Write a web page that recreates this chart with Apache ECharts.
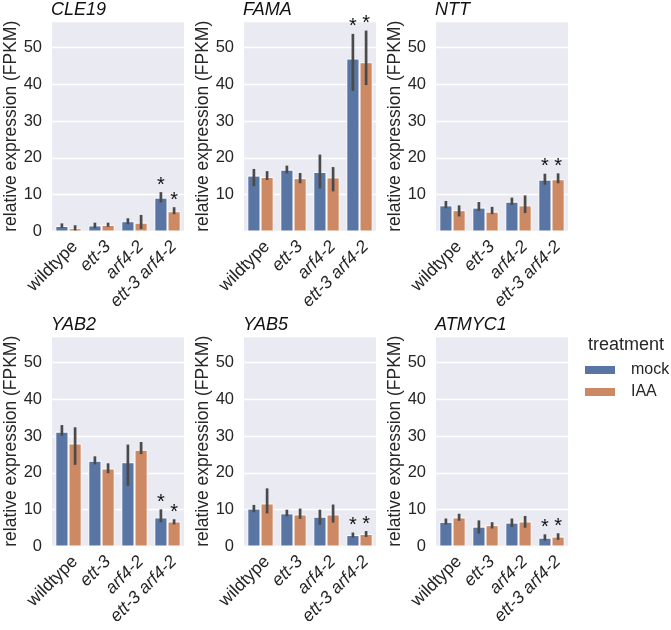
<!DOCTYPE html>
<html>
<head>
<meta charset="utf-8">
<script src="https://cdn.jsdelivr.net/npm/echarts@6/dist/echarts.min.js"></script>
<style>
  html, body { margin: 0; padding: 0; background: #fff; }
  #chart { width: 671px; height: 630px; }
</style>
</head>
<body>
<div id="chart"></div>
<script>
// genotypes on the x axis, one panel per gene
const categories = ["wildtype", "ett-3", "arf4-2", "ett-3 arf4-2"];
const genes = ["CLE19", "FAMA", "NTT", "YAB2", "YAB5", "ATMYC1"];
const treatments = ["mock", "IAA"];

// mean FPKM, one row per gene (same order as genes)
const mockMean = [
  [1.5, 1.65, 2.8, 9.2],
  [15.2, 16.8, 16.2, 47.0],
  [7.1, 6.5, 8.1, 14.1],
  [31.2, 23.3, 22.9, 7.9],
  [10.3, 9.0, 8.1, 3.1],
  [6.7, 5.4, 6.5, 2.4],
];
const iaaMean = [
  [0.9, 1.8, 2.4, 5.5],
  [14.8, 14.5, 14.7, 46.0],
  [5.8, 5.4, 7.1, 14.2],
  [28.0, 21.2, 26.3, 6.8],
  [11.7, 8.7, 8.7, 3.4],
  [7.9, 5.8, 6.8, 2.7],
];
// error bar ends
const mockLow = [
  [0.95, 0.9, 2.0, 7.9],
  [12.3, 15.8, 11.7, 38.2],
  [6.3, 5.6, 7.2, 12.7],
  [30.1, 22.3, 16.5, 6.6],
  [9.3, 8.2, 5.9, 2.4],
  [6.0, 3.5, 5.3, 1.6],
];
const mockHigh = [
  [2.2, 2.4, 3.6, 10.7],
  [17.0, 17.9, 20.9, 53.7],
  [8.3, 8.0, 9.2, 15.7],
  [33.0, 24.5, 27.7, 10.1],
  [11.3, 10.0, 10.0, 3.8],
  [7.6, 7.1, 7.6, 3.3],
];
const iaaLow = [
  [0.3, 1.3, 0.7, 4.7],
  [14.0, 13.1, 10.9, 39.8],
  [4.1, 4.7, 5.0, 13.1],
  [22.2, 19.9, 25.1, 6.0],
  [9.0, 7.5, 6.5, 2.6],
  [7.0, 4.9, 5.1, 1.8],
];
const iaaHigh = [
  [1.7, 2.4, 4.5, 6.6],
  [16.4, 15.9, 17.5, 54.6],
  [7.1, 6.7, 9.8, 15.8],
  [32.4, 22.6, 28.4, 7.4],
  [15.8, 10.3, 11.4, 4.2],
  [8.9, 6.6, 8.3, 3.6],
];
// significance asterisks (both treatments)
const significant = [
  [0, 0, 0, 1],
  [0, 0, 0, 1],
  [0, 0, 0, 1],
  [0, 0, 0, 1],
  [0, 0, 0, 1],
  [0, 0, 0, 1],
];
const yTicks = [0, 10, 20, 30, 40, 50];

const colors = ["#5975A4", "#CC8963"];
const txt = "#262626";
const font = "'Liberation Sans', Arial, sans-serif";
const lefts = [52, 244, 436];
const tops = [21, 336];
const W = 132, H = 210.5;
const YMAX = 57.2;

const chart = echarts.init(document.getElementById("chart"), null, { renderer: "canvas" });

const grids = [], xAxes = [], yAxes = [], titles = [], series = [];

genes.forEach((g, i) => {
  const col = i % 3, row = Math.floor(i / 3);
  grids.push({
    left: lefts[col], top: tops[row], width: W, height: H,
    show: true, backgroundColor: "#EAEAF2", borderWidth: 0, containLabel: false,
  });
  titles.push({
    text: g, left: lefts[col] - 1, top: tops[row] - 20, padding: 0,
    textStyle: { fontFamily: font, fontSize: 18, fontStyle: "italic", fontWeight: "normal", color: "#111" },
  });
  xAxes.push({
    type: "category", gridIndex: i, data: categories,
    axisLine: { show: false }, axisTick: { show: false },
    axisLabel: {
      interval: 0, rotate: 45, margin: 6, align: "right", verticalAlign: "top",
      color: txt, fontFamily: font, fontSize: 17.5,
      formatter: v => v === "wildtype" ? v : "{i|" + v + "}",
      rich: { i: { fontStyle: "italic", fontFamily: font, fontSize: 17.5, color: txt } },
    },
    splitLine: { show: false },
  });
  const hideZero = (i === 1 || i === 2);
  yAxes.push({
    type: "value", gridIndex: i, min: 0, max: YMAX, interval: 10,
    name: "relative expression (FPKM)", nameLocation: "middle", nameGap: 27,
    nameTextStyle: { fontFamily: font, fontSize: 17.5, color: txt },
    axisLine: { show: false }, axisTick: { show: false },
    axisLabel: {
      margin: 10, color: txt, fontFamily: font, fontSize: 16.5, showMaxLabel: false,
      formatter: v => (yTicks.indexOf(v) < 0 || (hideZero && v === 0)) ? "" : String(v),
    },
    splitLine: { lineStyle: { color: "#fff", width: 1.3 } },
  });

  [mockMean[i], iaaMean[i]].forEach((vals, h) => {
    series.push({
      type: "bar", name: treatments[h], xAxisIndex: i, yAxisIndex: i,
      data: vals, barGap: "0%", barCategoryGap: "20%",
      itemStyle: { color: colors[h], borderColor: "#fff", borderWidth: 1 },
      animation: false, silent: true,
    });
  });

  const errData = [];
  categories.forEach((c, k) => {
    errData.push([k, mockLow[i][k], mockHigh[i][k], 0, significant[i][k]]);
    errData.push([k, iaaLow[i][k], iaaHigh[i][k], 1, significant[i][k]]);
  });
  series.push({
    type: "custom", xAxisIndex: i, yAxisIndex: i, data: errData, z: 5,
    encode: { x: 0, y: [1, 2] }, clip: false, animation: false, silent: true,
    renderItem: (params, api) => {
      const k = api.value(0);
      const lo = api.coord([k, api.value(1)]);
      const hi = api.coord([k, api.value(2)]);
      const bw = api.size([1, 0])[0];
      const x = lo[0] + (api.value(3) === 0 ? -0.2 : 0.2) * bw;
      const children = [{
        type: "line",
        shape: { x1: x, y1: lo[1], x2: x, y2: hi[1] },
        style: { stroke: "#4a4a4a", lineWidth: 2.7 },
      }];
      if (api.value(4)) {
        children.push({
          type: "text",
          style: {
            x: x, y: hi[1] + 3, text: "*", align: "center", verticalAlign: "bottom",
            fontFamily: font, fontSize: 20, fill: "#111",
          },
        });
      }
      return { type: "group", children };
    },
  });
});

chart.setOption({
  animation: false,
  title: titles,
  grid: grids,
  xAxis: xAxes,
  yAxis: yAxes,
  legend: {
    data: treatments, orient: "vertical", left: 583, top: 362, padding: 0,
    itemWidth: 32, itemHeight: 10, itemGap: 6,
    icon: "rect",
    textStyle: { fontFamily: font, fontSize: 16, color: txt, padding: [0, 0, 0, 10] },
  },
  graphic: [{
    type: "text", left: 588, top: 336,
    style: { text: "treatment", fontFamily: font, fontSize: 18, fill: txt },
  }],
  series,
});
</script>
</body>
</html>
